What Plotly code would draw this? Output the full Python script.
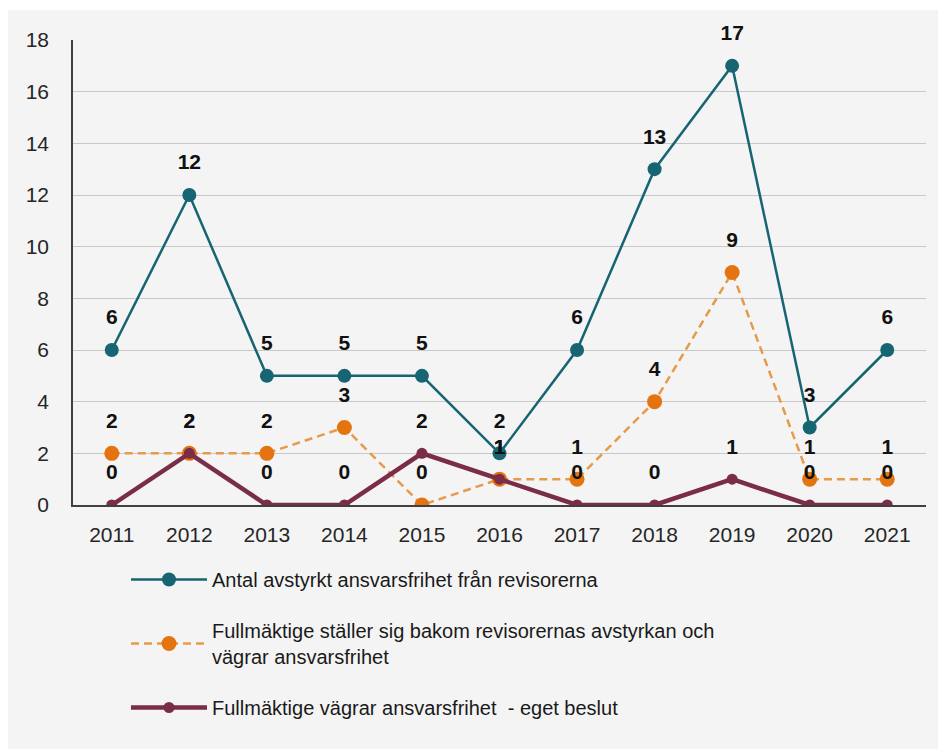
import plotly.graph_objects as go

years = ["2011", "2012", "2013", "2014", "2015", "2016", "2017", "2018", "2019", "2020", "2021"]
avstyrkt = [6, 12, 5, 5, 5, 2, 6, 13, 17, 3, 6]
staller_sig_bakom = [2, 2, 2, 3, 0, 1, 1, 4, 9, 1, 1]
eget_beslut = [0, 2, 0, 0, 2, 1, 0, 0, 1, 0, 0]

names = [
    "Antal avstyrkt ansvarsfrihet från revisorerna",
    "Fullmäktige ställer sig bakom revisorernas avstyrkan och<br>vägrar ansvarsfrihet",
    "Fullmäktige vägrar ansvarsfrihet  - eget beslut",
]

TEAL = "#176573"
ORANGE = "#e4740f"
ORANGE_LINE = "#e69a4a"
MAROON = "#7a2c48"
FONT = "Liberation Sans, Arial, sans-serif"

fig = go.Figure()

series = [
    (avstyrkt, names[0], dict(color=TEAL, width=2.5), dict(color=TEAL, size=14)),
    (staller_sig_bakom, names[1], dict(color=ORANGE_LINE, width=2.5, dash="8px,5px"), dict(color=ORANGE, size=15)),
    (eget_beslut, names[2], dict(color=MAROON, width=4.5), dict(color=MAROON, size=11)),
]

for i, (vals, name, line, marker) in enumerate(series):
    fig.add_trace(go.Scatter(
        x=years, y=vals, name=name, mode="lines+markers",
        line=line, marker=marker, legendgroup=str(i),
    ))

# value labels: an invisible wide marker pushes the text well above each point
for vals, _, _, _ in series:
    fig.add_trace(go.Scatter(
        x=years, y=vals, mode="markers+text",
        marker=dict(size=31, opacity=0),
        text=[f"<b>{v}</b>" for v in vals], textposition="top center",
        textfont=dict(family=FONT, size=21, color="#111111"),
        showlegend=False, hoverinfo="skip", cliponaxis=False,
    ))

# plot area: left 73, right 926, top 40, bottom 505 px
W, H = 853, 465
fig.add_shape(
    type="rect", xref="paper", yref="paper", layer="below",
    x0=(8 - 73) / W, x1=(940 - 73) / W,
    y0=(505 - 752) / H, y1=(505 - 10) / H,
    fillcolor="#f4f4f4", line=dict(width=0),
)

fig.update_layout(
    width=938, height=749,
    margin=dict(l=73, r=938 - 926, t=40, b=749 - 505),
    paper_bgcolor="white",
    plot_bgcolor="rgba(0,0,0,0)",
    font=dict(family=FONT, size=20, color="#262626"),
    showlegend=True,
    legend=dict(
        x=(126 - 73) / W, y=(505 - 560) / H, xanchor="left", yanchor="top",
        bgcolor="rgba(0,0,0,0)",
        font=dict(family=FONT, size=20, color="#1a1a1a"),
        tracegroupgap=22,
        itemwidth=76,
    ),
    xaxis=dict(
        type="category", range=[-0.5, 10.5],
        showgrid=False, showline=True, linecolor="#404040", linewidth=1.5,
        ticks="", tickfont=dict(family=FONT, size=21, color="#262626"),
        zeroline=False, ticklabelstandoff=10,
    ),
    yaxis=dict(
        range=[0, 18], dtick=2, tick0=0,
        showgrid=True, gridcolor="#c8c8c8", gridwidth=1.2,
        showline=True, linecolor="#404040", linewidth=1.5,
        ticks="", tickfont=dict(family=FONT, size=21, color="#262626"),
        zeroline=False, ticklabelstandoff=18,
    ),
)

fig.write_html("out.html")
